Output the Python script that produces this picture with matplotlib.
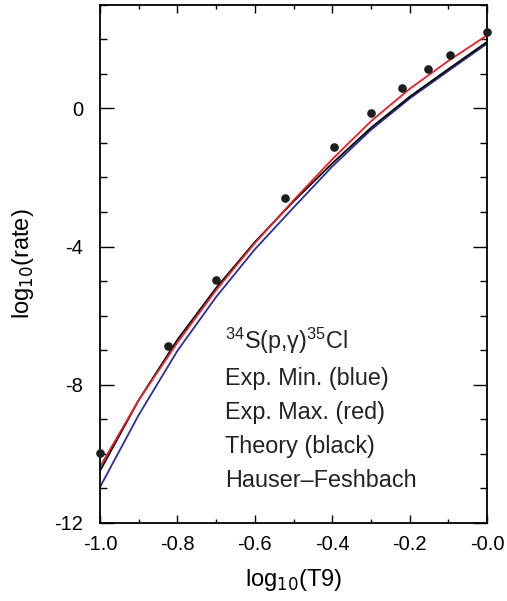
import matplotlib
matplotlib.use("Agg")
import matplotlib.pyplot as plt
from matplotlib.ticker import MultipleLocator, FixedLocator

plt.rcParams['font.family'] = ['Liberation Sans', 'DejaVu Sans']
plt.rcParams['axes.unicode_minus'] = False

# ---- data ----
log_t9 = [-1.0, -0.9, -0.8, -0.7, -0.6, -0.5, -0.4, -0.3, -0.2, -0.1, 0.0]
theory_black = [-10.50, -8.45, -6.70, -5.20, -3.87, -2.69, -1.59, -0.56, 0.34, 1.14, 1.93]
exp_max_red = [-10.38, -8.45, -6.78, -5.26, -3.90, -2.66, -1.47, -0.37, 0.57, 1.38, 2.12]
exp_min_blue = [-10.97, -8.88, -7.02, -5.46, -4.08, -2.87, -1.68, -0.62, 0.29, 1.09, 1.88]

hf_x = [-1.0, -0.825, -0.699, -0.522, -0.396, -0.300, -0.220, -0.153, -0.096, 0.0]
hf_y = [-9.97, -6.89, -4.98, -2.60, -1.13, -0.14, 0.59, 1.13, 1.56, 2.20]

x_ticks = [-1.0, -0.8, -0.6, -0.4, -0.2, 0.0]
x_ticklabels = ['-1.0', '-0.8', '-0.6', '-0.4', '-0.2', '-0.0']
y_ticks = [-12, -8, -4, 0]
y_ticklabels = ['-12', '-8', '-4', '0']

legend_lines = [r'$\mathregular{^{34}}$S(p,γ)$\mathregular{^{35}}$Cl',
                'Exp. Min. (blue)', 'Exp. Max. (red)', 'Theory (black)',
                'Hauser–Feshbach']

# ---- figure ----
fig = plt.figure(figsize=(5.07, 6.01), dpi=100)
ax = fig.add_axes([0.197, 0.130, 0.764, 0.862])

ax.plot(log_t9, exp_min_blue, color='#2b2f92', lw=1.3)
ax.plot(log_t9, theory_black, color='black', lw=1.3)
ax.plot(log_t9, exp_max_red, color='#e8202a', lw=1.3)
ax.plot(hf_x, hf_y, 'o', color='#1e1e1e', ms=5.2, clip_on=False, zorder=5)

ax.set_xlim(-1.0, 0.0)
ax.set_ylim(-12, 3)

ax.xaxis.set_major_locator(FixedLocator(x_ticks))
ax.set_xticklabels(x_ticklabels)
ax.xaxis.set_minor_locator(MultipleLocator(0.1))
ax.yaxis.set_major_locator(FixedLocator(y_ticks))
ax.set_yticklabels(y_ticklabels)
ax.yaxis.set_minor_locator(MultipleLocator(1))

ax.tick_params(axis='both', which='both', direction='in', top=True, right=True,
               width=1.0, labelsize=14.5, colors='black')
ax.tick_params(axis='x', which='major', length=6, pad=9)
ax.tick_params(axis='x', which='minor', length=3)
ax.tick_params(axis='y', which='major', length=10, pad=12)
ax.tick_params(axis='y', which='minor', length=5)
for s in ax.spines.values():
    s.set_linewidth(1.3)

ax.set_xlabel(r'log$_{10}$(T9)', fontsize=17, labelpad=9)
ax.set_ylabel(r'log$_{10}$(rate)', fontsize=17, labelpad=13)

ys = [-6.97, -8.0, -8.98, -9.97, -10.95]
for txt, yy in zip(legend_lines, ys):
    ax.text(-0.677, yy, txt, fontsize=16.8, va='baseline', ha='left', color='#222222')

fig.savefig('out.png', dpi=100)
